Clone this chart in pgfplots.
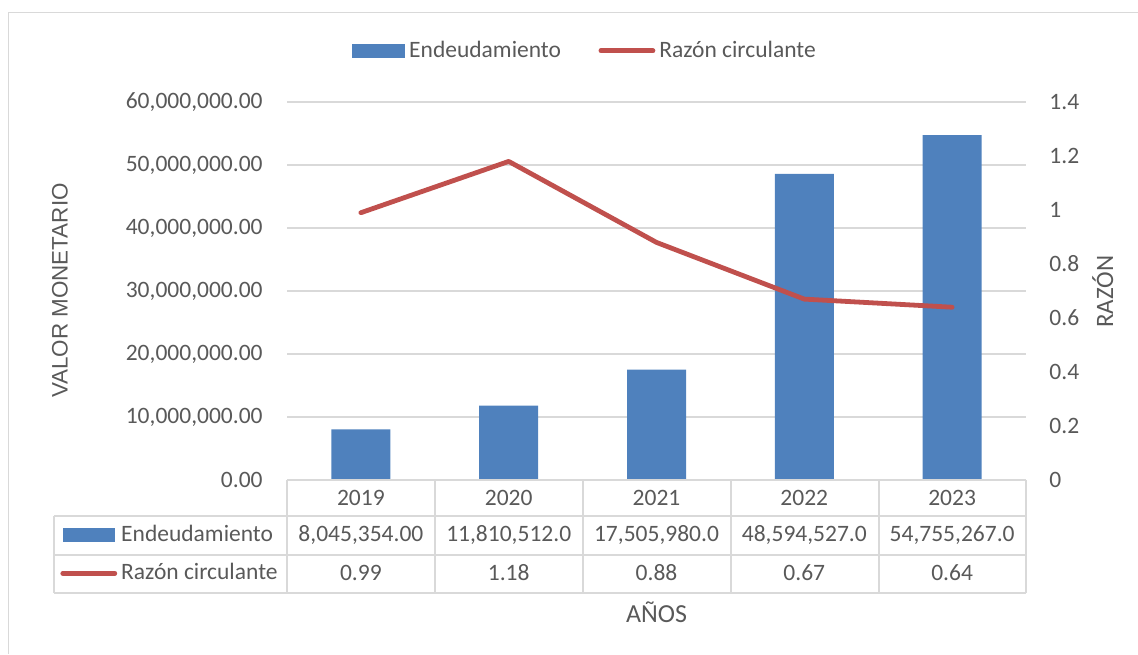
\documentclass[border=0pt]{standalone}
\usepackage{fontspec}
\setmainfont{Carlito}
\newfontfamily\arialfont{Liberation Sans}
\usepackage{pgfplots}
\pgfplotsset{compat=1.18}

\definecolor{barblue}{HTML}{4F81BD}
\definecolor{linered}{HTML}{C0504D}
\definecolor{txtgray}{HTML}{595959}
\definecolor{gridgray}{HTML}{D9D9D9}

\newcommand\tickfont{\fontsize{11.75}{14}\selectfont}

\pgfplotsset{
  barkey/.style={legend image code/.code={\fill[barblue] (-13pt,-3.4pt) rectangle (13pt,3.4pt);}},
  linekey/.style={legend image code/.code={\draw[linered, line width=2.4pt, line cap=round] (-13pt,0pt) -- (13pt,0pt);}},
  chartaxis/.style={
    scale only axis, width=369.5pt, height=189pt,
    at={(143.5pt,-240pt)}, anchor=south west,
    xmin=-0.5, xmax=4.5, ymin=0,
    axis line style={draw=none},
    major tick style={draw=none},
    scaled y ticks=false,
    /pgf/number format/assume math mode=true,
    tick label style={font=\tickfont, text=txtgray, inner sep=0pt},
    legend cell align=left,
    legend style={draw=none, fill=none, inner sep=0pt, font=\tickfont, text=txtgray,
      column sep=0pt, row sep=8.55pt,
      nodes={inner xsep=2pt, inner ysep=0pt, text height=8.6pt, text depth=2pt}},
  },
}

\begin{document}
\begin{tikzpicture}
% page frame, 1 px = 0.5pt
\begin{scope}[x=0.5pt,y=-0.5pt]
  \useasboundingbox (0,0) rectangle (1138,654);
  \draw[gridgray, line width=0.75pt] (8.3,654) -- (8.3,12.3) -- (1138,12.3);
\end{scope}

% bars, left axis
\begin{axis}[chartaxis,
  ymax=60000000,
  ytick={0,10000000,20000000,30000000,40000000,50000000,60000000},
  yticklabels={0.00,{10,000,000.00},{20,000,000.00},{30,000,000.00},{40,000,000.00},{50,000,000.00},{60,000,000.00}},
  ymajorgrids, grid style={gridgray, line width=0.75pt},
  xtick={0,1,2,3,4}, xticklabels={2019,2020,2021,2022,2023},
  xticklabel style={anchor=base, yshift=-12.5pt},
  yticklabel style={anchor=east, xshift=-12pt},
  legend style={at={(-0.30717,-0.19630)}, anchor=west},
]
\addplot[ybar, bar width=29.5pt, fill=barblue, draw=none, barkey] coordinates {
  (0,8045354) (1,11810512) (2,17505980) (3,48594527) (4,54755267)};
\addlegendentry{Endeudamiento}
\addlegendimage{linekey}
\addlegendentry{Razón circulante}
\end{axis}

% line, right axis
\begin{axis}[chartaxis,
  axis y line*=right, axis x line=none,
  ymax=1.4,
  ytick={0,0.2,0.4,0.6,0.8,1,1.2,1.4},
  yticklabels={0,0.2,0.4,0.6,0.8,1,1.2,1.4},
  xtick=\empty,
  yticklabel style={anchor=west, xshift=11.5pt},
  legend columns=2,
  legend style={at={(0.08796,1.13545)}, anchor=west,
    /tikz/every even column/.append style={column sep=16.75pt}},
]
\addlegendimage{barkey}
\addlegendentry{Endeudamiento}
\addplot[linered, line width=2.4pt, line cap=round, line join=round, linekey] coordinates {
  (0,0.99) (1,1.18) (2,0.88) (3,0.67) (4,0.64)};
\addlegendentry{Razón circulante}
\end{axis}

% data table and titles
\begin{scope}[x=0.5pt,y=-0.5pt]
  \begin{scope}[gridgray, line width=1pt]
    \draw (287,480) -- (1026,480);
    \draw (54,516) -- (1026,516);
    \draw (54,554.5) -- (1026,554.5);
    \draw (54,592.5) -- (1026,592.5);
    \draw (54,516) -- (54,592.5);
    \foreach \x in {287,435,583,731,879,1026} \draw (\x,480) -- (\x,592.5);
  \end{scope}
  \begin{scope}[every node/.style={anchor=base, font=\tickfont, text=txtgray, inner sep=0pt}]
    \node at (360.9,541.5) {8,045,354.00};
    \node at (508.7,541.5) {11,810,512.0};
    \node at (656.5,541.5) {17,505,980.0};
    \node at (804.3,541.5) {48,594,527.0};
    \node at (952.1,541.5) {54,755,267.0};
    \node at (360.9,580) {0.99};
    \node at (508.7,580) {1.18};
    \node at (656.5,580) {0.88};
    \node at (804.3,580) {0.67};
    \node at (952.1,580) {0.64};
  \end{scope}
  \node[anchor=base, font=\fontsize{13}{15}\selectfont, text=txtgray, inner sep=0pt] at (656.5,622.5) {AÑOS};
  \node[rotate=90, anchor=center, font=\arialfont\fontsize{11.2}{13}\selectfont, text=txtgray, inner sep=0pt] at (60,290.5) {VALOR MONETARIO};
  \node[rotate=90, anchor=base, font=\fontsize{12.5}{15}\selectfont, text=txtgray, inner sep=0pt] at (1113,291.5) {RAZÓN};
\end{scope}
\end{tikzpicture}
\end{document}
